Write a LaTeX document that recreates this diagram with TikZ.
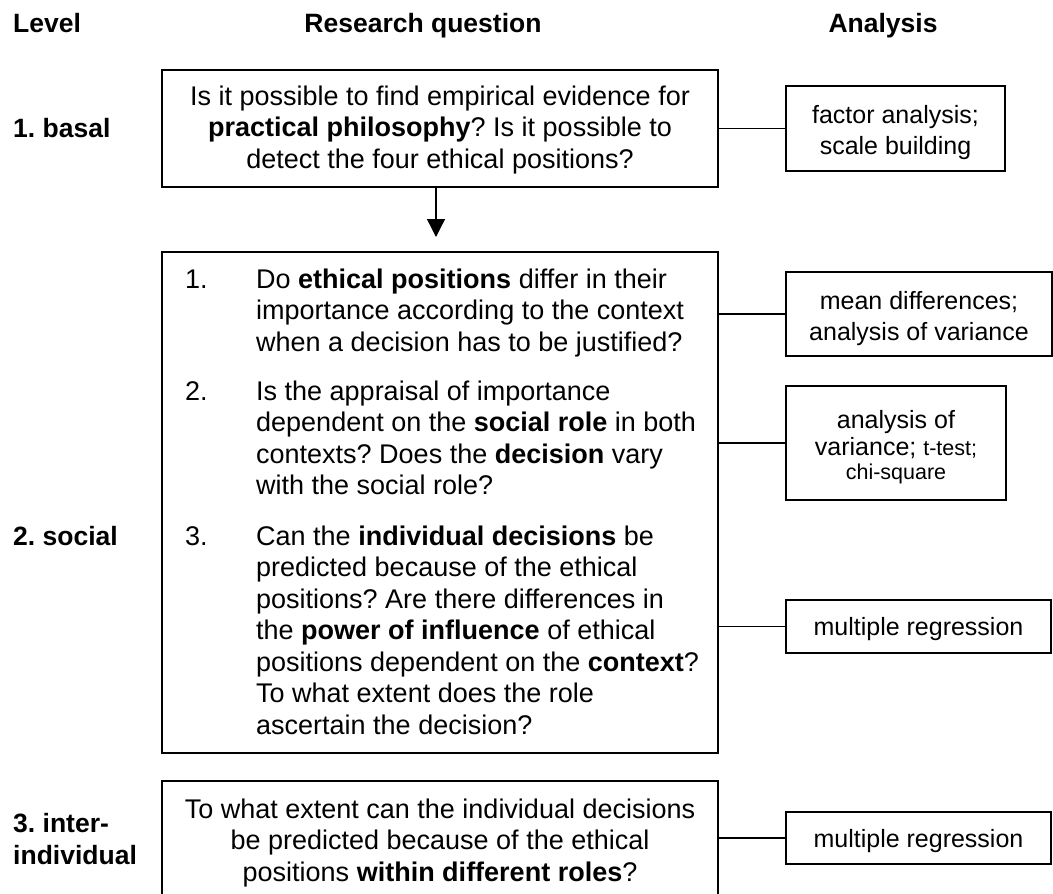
\documentclass[tikz,border=0pt]{standalone}
\usepackage{fontspec}
\setmainfont{Liberation Sans}
\usetikzlibrary{arrows.meta}
\frenchspacing
\tikzset{
  box/.style={draw, line width=1.3pt, rectangle, inner sep=0pt, outer sep=0pt, anchor=north west},
  txt/.style={anchor=base, inner sep=0pt, font={\fontsize{27}{31.5}\selectfont}},
  txtl/.style={txt, anchor=base west},
  an/.style={anchor=base, inner sep=0pt, font={\fontsize{25}{30}\selectfont}},
  hd/.style={anchor=base, inner sep=0pt, font={\bfseries\fontsize{26.5}{31}\selectfont}},
  lbl/.style={hd, anchor=base west},
  conn/.style={line width=1.3pt},
  arr/.style={line width=1.3pt, -{Triangle[length=18pt,width=18pt]}}
}
\newcommand{\smallsz}{\fontsize{21.5}{26}\selectfont}
\begin{document}
\begin{tikzpicture}[x=1pt, y=-1pt]
\frenchspacing
\useasboundingbox (0,0) rectangle (1053,894);

% headers
\node[lbl] (hlevel) at (13,32) {Level};
\node[hd] (hrq) at (423,32) {Research question};
\node[hd] (han) at (883,32) {Analysis};

% level labels
\node[lbl] (l1) at (13,137) {1.\ basal};
\node[lbl] (l2) at (13,545) {2.\ social};
\node[lbl] (l3a) at (13,832) {3.\ inter-};
\node[lbl] (l3b) at (13,864) {individual};

% research question boxes
\node[box, minimum width=556pt, minimum height=117pt] (b1) at (162,70) {};
\node[box, minimum width=556pt, minimum height=501pt] (b2) at (162,252) {};
\node[box, minimum width=556pt, minimum height=116pt] (b3) at (162,781) {};

% box 1 text
\node[txt] (b1l1) at (440,105) {Is it possible to find empirical evidence for};
\node[txt] (b1l2) at (440,136.5) {\textbf{practical philosophy}? Is it possible to};
\node[txt] (b1l3) at (440,168) {detect the four ethical positions?};

% box 2 text
\node[txtl] (n1) at (185,288) {1.};
\node[txtl] (i1a) at (256,288) {Do \textbf{ethical positions} differ in their};
\node[txtl] (i1b) at (256,319.5) {importance according to the context};
\node[txtl] (i1c) at (256,351) {when a decision has to be justified?};

\node[txtl] (n2) at (185,400) {2.};
\node[txtl] (i2a) at (256,400) {Is the appraisal of importance};
\node[txtl] (i2b) at (256,431.5) {dependent on the \textbf{social role} in both};
\node[txtl] (i2c) at (256,463) {contexts?\ Does the \textbf{decision} vary};
\node[txtl] (i2d) at (256,494.5) {with the social role?};

\node[txtl] (n3) at (185,545) {3.};
\node[txtl] (i3a) at (256,545) {Can the \textbf{individual decisions} be};
\node[txtl] (i3b) at (256,576.5) {predicted because of the ethical};
\node[txtl] (i3c) at (256,608) {positions?\ Are there differences in};
\node[txtl] (i3d) at (256,639.5) {the \textbf{power of influence} of ethical};
\node[txtl] (i3e) at (256,671) {positions dependent on the \textbf{context}?};
\node[txtl] (i3f) at (256,702.5) {To what extent does the role};
\node[txtl] (i3g) at (256,734) {ascertain the decision?};

% box 3 text
\node[txt] (b3l1) at (440,818) {To what extent can the individual decisions};
\node[txt] (b3l2) at (440,849.5) {be predicted because of the ethical};
\node[txt] (b3l3) at (440,881) {positions \textbf{within different roles}?};

% analysis boxes
\node[box, minimum width=219pt, minimum height=85pt] (a1) at (786,86) {};
\node[box, minimum width=266pt, minimum height=84pt] (a2) at (786,272) {};
\node[box, minimum width=220pt, minimum height=114pt] (a3) at (786,386) {};
\node[box, minimum width=265pt, minimum height=53pt] (a4) at (786,600) {};
\node[box, minimum width=265pt, minimum height=52pt] (a5) at (786,812) {};

\node[an] (a1l1) at (895.5,123) {factor analysis;};
\node[an] (a1l2) at (895.5,154) {scale building};
\node[an] (a2l1) at (919,309) {mean differences;};
\node[an] (a2l2) at (919,340) {analysis of variance};
\node[an] (a3l1) at (896,428) {analysis of};
\node[an] (a3l2) at (896,455) {variance; {\smallsz t-test;}};
\node[an] (a3l3) at (896,479) {\smallsz chi-square};
\node[an] (a4l1) at (918.5,635) {multiple regression};
\node[an] (a5l1) at (918.5,847) {multiple regression};

% connectors
\draw[conn] (a1.west -| b1.east) -- (a1.west);
\draw[conn] (a2.west -| b2.east) -- (a2.west);
\draw[conn] (a3.west -| b2.east) -- (a3.west);
\draw[conn] (a4.west -| b2.east) -- (a4.west);
\draw[conn] (a5.west -| b3.east) -- (a5.west);

% arrow
\coordinate (tip) at (436,237);
\draw[arr] (tip |- b1.south) -- (tip);
\end{tikzpicture}
\end{document}
